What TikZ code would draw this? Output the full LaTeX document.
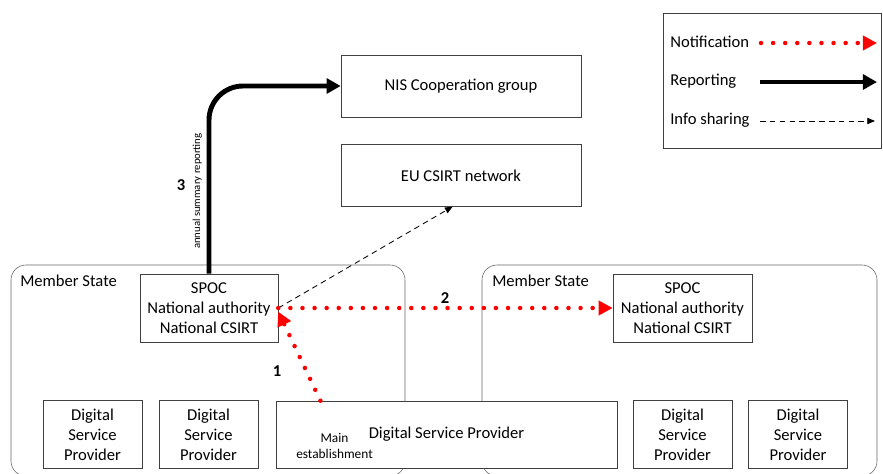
\documentclass[tikz,border=0pt]{standalone}
\usepackage{fontspec}
\setmainfont{Carlito}
\usetikzlibrary{arrows.meta}

\begin{document}
\begin{tikzpicture}[
    x=0.25mm, y=-0.25mm,
    text centered,
    font=\fontsize{11.8pt}{14.2pt}\selectfont,
	state/.style={
	  rectangle,
	  rounded corners=3.75mm,
	  draw=black!60,
	  thin,
	  minimum width=98.5mm,
	  minimum height=52.75mm
	},
	box/.style={
	  rectangle,
	  align=center,
	  draw=black!75,
	  thin,
	  fill=white,
	  inner sep=0pt,
	  minimum width=34.5mm,
	  minimum height=17mm
	},
	provider/.style={
	  box,
	  minimum width=24.75mm
	},
	eubox/.style={
	  box,
	  minimum width=60mm,
	  minimum height=15.4mm
	},
	caption/.style={anchor=west, inner sep=0pt},
	tag/.style={font=\fontsize{11.8pt}{14.2pt}\selectfont\bfseries},
	notify/.style={draw=red, line width=3.2pt, line cap=round,
	  dash pattern=on 0pt off 8.6pt, -{Triangle[length=10pt, width=10pt]}},
	report/.style={draw, line width=3.5pt, rounded corners=8.5mm,
	  -{Triangle[length=10pt, width=10.5pt]}},
	share/.style={draw, line width=0.6pt, dash pattern=on 4pt off 3pt,
	  -{Triangle[length=5.5pt, width=4.5pt]}}
	]
	\useasboundingbox (0, 0) rectangle (883, 473);
	% member states
	\node at (208, 370.5) [state] (stateL) {};
	\node at (679.5, 370.5) [state, minimum width=98.75mm] (stateR) {};
	\node at (20, 281) [caption] (msL) {Member State};
	\node at (492, 281) [caption] (msR) {Member State};
	\node at (209, 308) [box] (spocL) {SPOC\\National authority\\National CSIRT};
	\node at (682.5, 308) [box, minimum width=34.75mm] (spocR) {SPOC\\National authority\\National CSIRT};
	\node at (92.5, 434.5) [provider] (dspA) {Digital\\Service\\Provider};
	\node at (208.5, 434.5) [provider] (dspB) {Digital\\Service\\Provider};
	\node at (446.5, 434.5) [box, minimum width=85.25mm, minimum height=16.75mm] (dsp) {Digital Service Provider};
	\node at (334.5, 446) [font=\fontsize{9.5pt}{11.4pt}\selectfont, align=center] (mainest) {Main\\establishment};
	\node at (682.5, 434.5) [provider] (dspC) {Digital\\Service\\Provider};
	\node at (798, 434.5) [provider] (dspD) {Digital\\Service\\Provider};
	% EU level
	\node at (461, 86) [eubox] (nis) {NIS Cooperation group};
	\node at (461, 175.5) [eubox] (eu) {EU CSIRT network};
	% legend
	\node at (772, 80.5) [rectangle, draw=black!75, thin, minimum width=54.5mm, minimum height=33.75mm] (legend) {};
	\node at (670, 42) [caption] (lnotify) {Notification};
	\node at (670, 81) [caption] (lreport) {Reporting};
	\node at (670, 120) [caption] (lshare) {Info sharing};
	\coordinate (na) at (761, 43);
	\coordinate (nb) at (877, 43);
	\coordinate (ra) at (760, 82);
	\coordinate (rb) at (877, 82);
	\coordinate (sa) at (760, 121);
	\coordinate (sb) at (875, 121);
	\path [notify] (na) -- (nb);
	\path [report] (ra) -- (rb);
	\path [share] (sa) -- (sb);
	% flows
	\path [share] (spocL.east) -- (eu.-105);
	\path [report] (spocL.north) |- (nis.west)
	  node [pos=0.22, above, sloped, font=\fontsize{7.6pt}{9pt}\selectfont] (lannual) {annual summary reporting};
	\path [notify] (spocL.east) -- (spocR.west);
	\path [notify] (dsp.165.5) -- (spocL.-3);
	\node at (181, 185) [tag] (n3) {3};
	\node at (445, 298) [tag] (n2) {2};
	\node at (277, 371) [tag] (n1) {1};
  \end{tikzpicture}
\end{document}
